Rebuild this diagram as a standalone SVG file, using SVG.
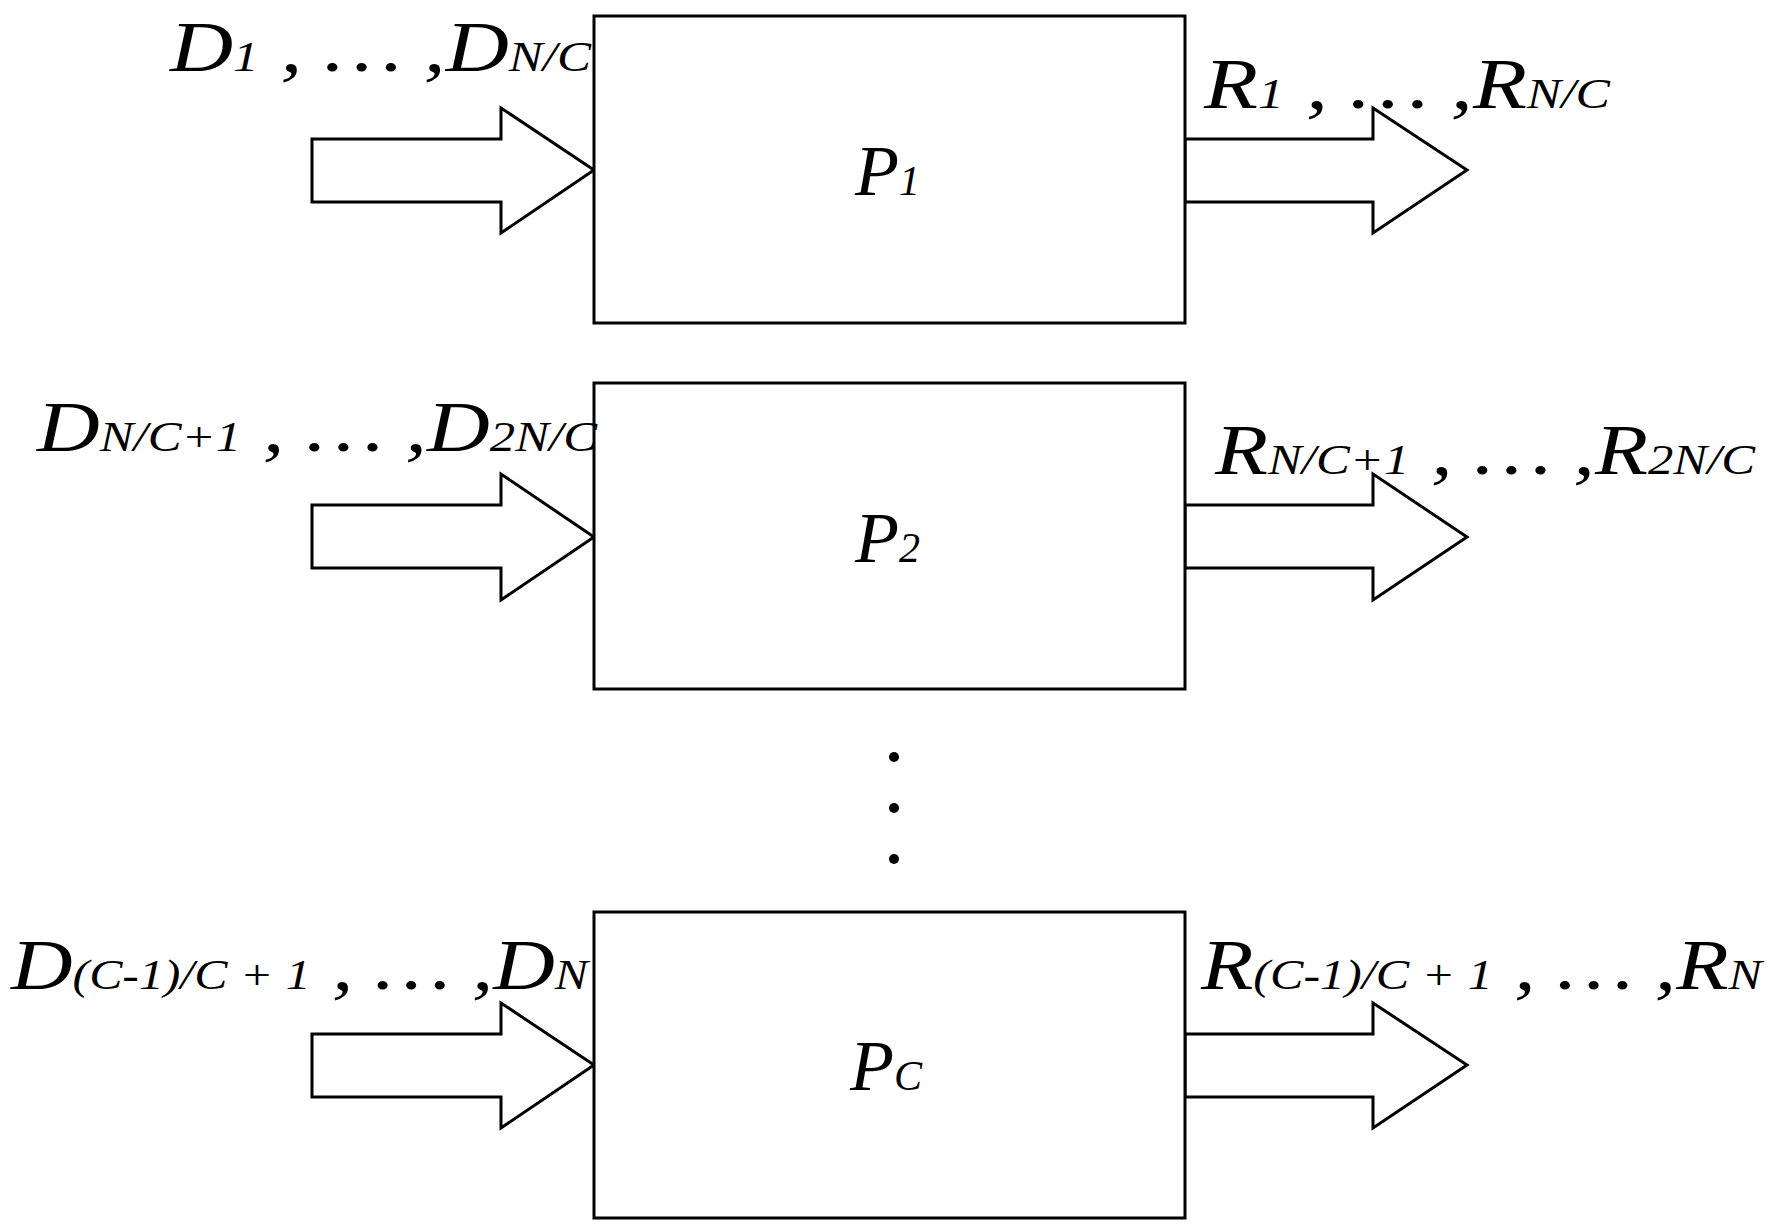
<svg xmlns="http://www.w3.org/2000/svg" width="1772" height="1231" viewBox="0 0 1772 1231">
<style>
.b{fill:#fff;stroke:#000;stroke-width:3}
.a{fill:#fff;stroke:#000;stroke-width:3;stroke-linejoin:miter}
text{font-family:"Liberation Serif",serif;font-style:italic;fill:#000;font-size:72px}
.s{font-size:42px}
</style>
<rect width="1772" height="1231" fill="#fff"/>
<g id="connectors">
<polygon class="a" points="312,139 501,139 501,108 594,170 501,233 501,202 312,202"/>
<polygon class="a" points="1185,139 1373,139 1373,108 1467,170 1373,233 1373,202 1185,202"/>
<polygon class="a" points="312,505 501,505 501,474 594,537 501,600 501,568 312,568"/>
<polygon class="a" points="1185,505 1373,505 1373,474 1467,537 1373,600 1373,568 1185,568"/>
<polygon class="a" points="312,1034 501,1034 501,1003 594,1065 501,1128 501,1097 312,1097"/>
<polygon class="a" points="1185,1034 1373,1034 1373,1003 1467,1065 1373,1128 1373,1097 1185,1097"/>
</g>
<g id="p1"><rect class="b" x="594" y="16" width="591" height="307"/><text x="855" y="195">P<tspan class="s">1</tspan></text></g>
<g id="p2"><rect class="b" x="594" y="383" width="591" height="306"/><text x="855" y="562">P<tspan class="s">2</tspan></text></g>
<g id="pc"><rect class="b" x="594" y="912" width="591" height="306"/><text x="850" y="1090">P<tspan class="s">C</tspan></text></g>
<g id="dots" fill="#000"><circle cx="894" cy="757" r="5"/><circle cx="894" cy="808" r="5"/><circle cx="894" cy="859" r="5"/></g>
<g id="labels">
<text x="170" y="71" textLength="421" lengthAdjust="spacingAndGlyphs">D<tspan class="s">1</tspan> , … ,D<tspan class="s">N/C</tspan></text>
<text x="1204" y="108" textLength="406" lengthAdjust="spacingAndGlyphs">R<tspan class="s">1</tspan> , … ,R<tspan class="s">N/C</tspan></text>
<text x="37" y="451" textLength="560" lengthAdjust="spacingAndGlyphs">D<tspan class="s">N/C+1</tspan> , … ,D<tspan class="s">2N/C</tspan></text>
<text x="1215" y="474" textLength="540" lengthAdjust="spacingAndGlyphs">R<tspan class="s">N/C+1</tspan> , … ,R<tspan class="s">2N/C</tspan></text>
<text x="11" y="989" textLength="577" lengthAdjust="spacingAndGlyphs">D<tspan class="s">(C-1)/C + 1</tspan> , … ,D<tspan class="s">N</tspan></text>
<text x="1201" y="989" textLength="561" lengthAdjust="spacingAndGlyphs">R<tspan class="s">(C-1)/C + 1</tspan> , … ,R<tspan class="s">N</tspan></text>
</g>
</svg>
